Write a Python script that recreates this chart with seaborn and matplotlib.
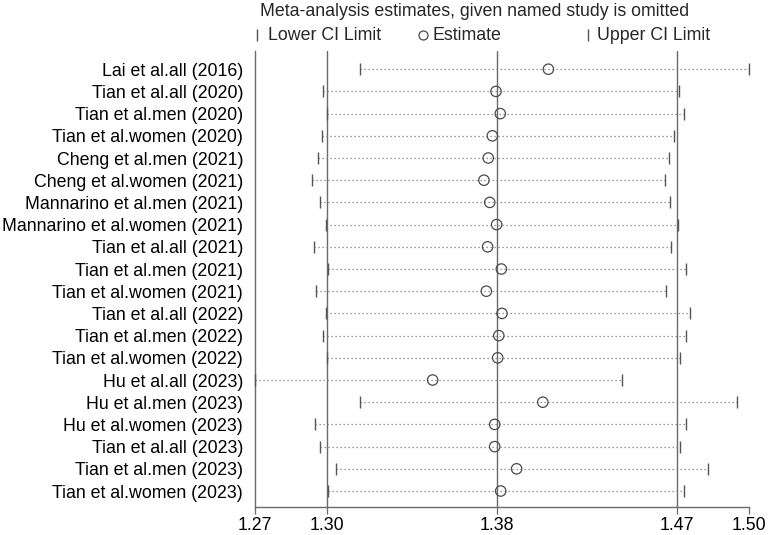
import numpy as np
import pandas as pd
import matplotlib
matplotlib.use("Agg")
import matplotlib.pyplot as plt
from matplotlib.lines import Line2D
import seaborn as sns

studies = [
    "Lai et al.all (2016)", "Tian et al.all (2020)", "Tian et al.men (2020)",
    "Tian et al.women (2020)", "Cheng et al.men (2021)", "Cheng et al.women (2021)",
    "Mannarino et al.men (2021)", "Mannarino et al.women (2021)", "Tian et al.all (2021)",
    "Tian et al.men (2021)", "Tian et al.women (2021)", "Tian et al.all (2022)",
    "Tian et al.men (2022)", "Tian et al.women (2022)", "Hu et al.all (2023)",
    "Hu et al.men (2023)", "Hu et al.women (2023)", "Tian et al.all (2023)",
    "Tian et al.men (2023)", "Tian et al.women (2023)",
]
estimate = [1.4066, 1.3822, 1.3842, 1.3805, 1.3786, 1.3766, 1.3793, 1.3825, 1.3783, 1.3847,
            1.3777, 1.3850, 1.3835, 1.3830, 1.3527, 1.4040, 1.3816, 1.3816, 1.3918, 1.3844]
lower = [1.3189, 1.3015, 1.3036, 1.3010, 1.2993, 1.2967, 1.3001, 1.3031, 1.2976, 1.3038,
         1.2982, 1.3031, 1.3017, 1.3034, 1.2700, 1.3189, 1.2978, 1.3004, 1.3079, 1.3041]
upper = [1.5002, 1.4676, 1.4699, 1.4649, 1.4629, 1.4610, 1.4634, 1.4668, 1.4638, 1.4708,
         1.4615, 1.4724, 1.4708, 1.4680, 1.4407, 1.4946, 1.4708, 1.4680, 1.4811, 1.4697]
overall = [1.3034, 1.3828, 1.4666]   # lower CI, estimate, upper CI of pooled result
axis_min, axis_max = 1.27, 1.50

df = pd.DataFrame({"study": studies, "est": estimate, "lo": lower, "hi": upper})
df["row"] = np.arange(len(df))

W, H = 774, 535
FS = 12.8
sns.set_theme(style="white")
plt.rcParams["font.family"] = ["Liberation Sans", "DejaVu Sans"]

fig = plt.figure(figsize=(W / 100, H / 100), dpi=100)
ax = fig.add_axes([255 / W, 1 - 507 / H, (749 - 255) / W, (507 - 51) / H])

line_col = "#6a6a6a"
for v in overall:
    ax.axvline(v, color=line_col, lw=1.0, zorder=1)

ax.hlines(df["row"], df["lo"], df["hi"], colors="#7a7a7a", linestyles=(0, (1, 2.2)),
          lw=0.9, zorder=2, clip_on=False)

ends = pd.concat([df[["lo", "row"]].rename(columns={"lo": "x"}),
                  df[["hi", "row"]].rename(columns={"hi": "x"})])
sns.scatterplot(data=ends, x="x", y="row", marker="|", s=85, color="#555555",
                linewidth=1.0, ax=ax, zorder=3, clip_on=False, legend=False)
sns.scatterplot(data=df, x="est", y="row", marker="o", s=56, facecolor="none",
                edgecolor="#4a4a4a", linewidth=0.9, ax=ax, zorder=4, clip_on=False,
                legend=False)

ax.set_xlim(axis_min, axis_max)
ax.set_ylim(19.72, -0.82)
ticks = [axis_min] + overall + [axis_max]
ax.set_xticks(ticks)
ax.set_xticklabels([f"{t:.2f}" for t in ticks], fontsize=FS, color="black")
ax.set_yticks(df["row"])
ax.set_yticklabels(df["study"], fontsize=FS, color="black")
ax.tick_params(axis="x", direction="out", length=5, width=0.9, color=line_col, pad=2,
               bottom=True)
ax.tick_params(axis="y", length=0, pad=8.5)
ax.set_xlabel("")
ax.set_ylabel("")
for s in ["top", "right"]:
    ax.spines[s].set_visible(False)
for s in ["left", "bottom"]:
    ax.spines[s].set_color(line_col)
    ax.spines[s].set_linewidth(1.0)

# title and legend
fig.text(260 / W, 1 - 12 / H, "Meta-analysis estimates, given named study is omitted",
         fontsize=FS, ha="left", va="center")
ly = 1 - 35 / H
fig.add_artist(Line2D([257 / W], [ly], marker="|", markersize=9, color="#555555",
                      transform=fig.transFigure, linestyle="none"))
fig.text(268 / W, ly, "Lower CI Limit", fontsize=FS, ha="left", va="center")
fig.add_artist(Line2D([423 / W], [ly], marker="o", markersize=6.5, markerfacecolor="none",
                      markeredgecolor="#4a4a4a", markeredgewidth=0.9,
                      transform=fig.transFigure, linestyle="none"))
fig.text(432 / W, ly, "Estimate", fontsize=FS, ha="left", va="center")
fig.add_artist(Line2D([588 / W], [ly], marker="|", markersize=9, color="#555555",
                      transform=fig.transFigure, linestyle="none"))
fig.text(597 / W, ly, "Upper CI Limit", fontsize=FS, ha="left", va="center")

fig.savefig("out.png", dpi=100, facecolor="white")
